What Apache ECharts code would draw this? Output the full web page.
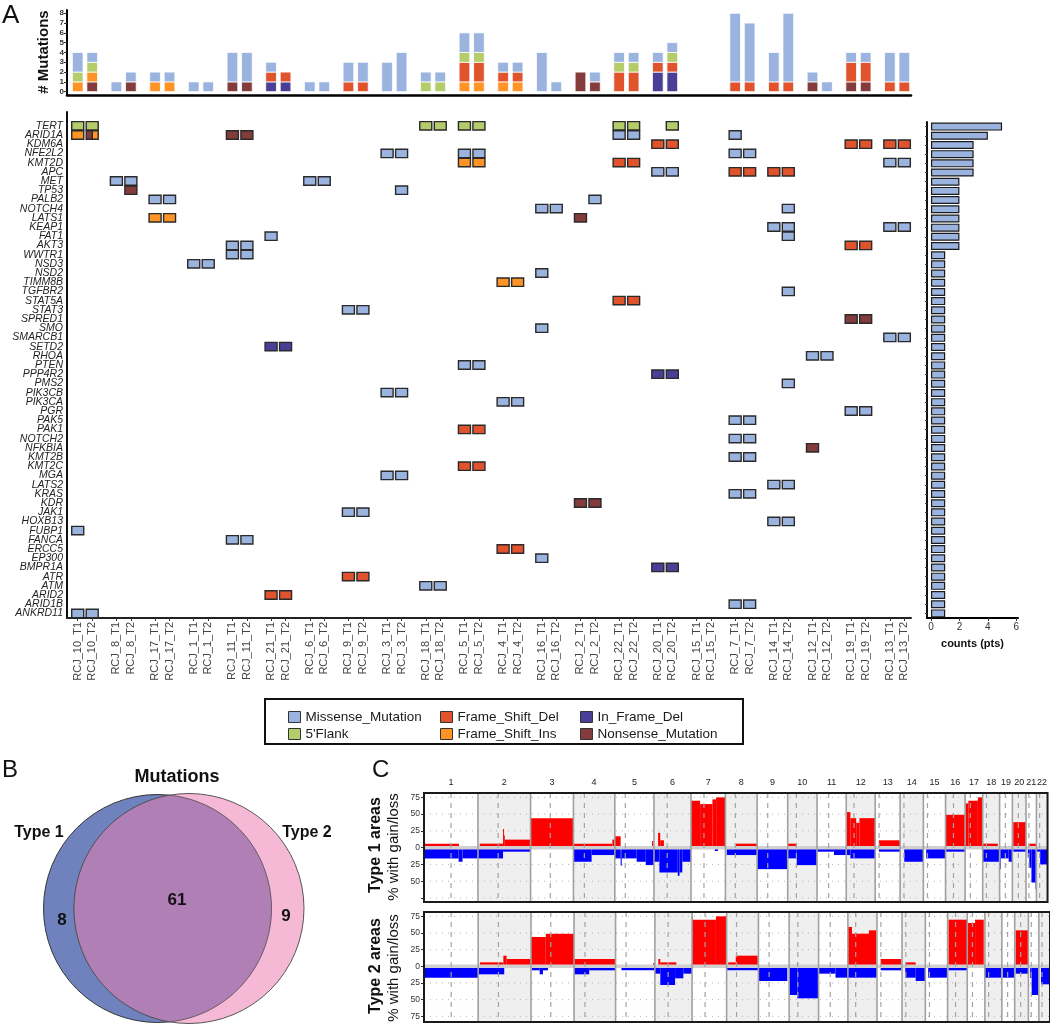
<!DOCTYPE html>
<html><head><meta charset="utf-8">
<script src="https://cdn.jsdelivr.net/npm/echarts@6/dist/echarts.min.js"></script>
<style>html,body{margin:0;padding:0;background:#fff}#c{width:1050px;height:1025px}</style>
</head><body><div id="c"></div>
<script>
// ---------------- DATA ----------------
const samples = ['RCJ_10_T1','RCJ_10_T2','RCJ_8_T1','RCJ_8_T2','RCJ_17_T1','RCJ_17_T2','RCJ_1_T1','RCJ_1_T2','RCJ_11_T1','RCJ_11_T2','RCJ_21_T1','RCJ_21_T2','RCJ_6_T1','RCJ_6_T2','RCJ_9_T1','RCJ_9_T2','RCJ_3_T1','RCJ_3_T2','RCJ_18_T1','RCJ_18_T2','RCJ_5_T1','RCJ_5_T2','RCJ_4_T1','RCJ_4_T2','RCJ_16_T1','RCJ_16_T2','RCJ_2_T1','RCJ_2_T2','RCJ_22_T1','RCJ_22_T2','RCJ_20_T1','RCJ_20_T2','RCJ_15_T1','RCJ_15_T2','RCJ_7_T1','RCJ_7_T2','RCJ_14_T1','RCJ_14_T2','RCJ_12_T1','RCJ_12_T2','RCJ_19_T1','RCJ_19_T2','RCJ_13_T1','RCJ_13_T2'];
const genes = ['TERT','ARID1A','KDM6A','NFE2L2','KMT2D','APC','MET','TP53','PALB2','NOTCH4','LATS1','KEAP1','FAT1','AKT3','WWTR1','NSD3','NSD2','TIMM8B','TGFBR2','STAT5A','STAT3','SPRED1','SMO','SMARCB1','SETD2','RHOA','PTEN','PPP4R2','PMS2','PIK3CB','PIK3CA','PGR','PAK5','PAK1','NOTCH2','NFKBIA','KMT2B','KMT2C','MGA','LATS2','KRAS','KDR','JAK1','HOXB13','FUBP1','FANCA','ERCC5','EP300','BMPR1A','ATR','ATM','ARID2','ARID1B','ANKRD11'];
const geneCounts = [5,4,3,3,3,3,2,2,2,2,2,2,2,2,
  1,1,1,1,1,1,1,1,1,1, 1,1,1,1,1,1,1,1,1,1, 1,1,1,1,1,1,1,1,1,1, 1,1,1,1,1,1,1,1,1,1];
const mutationTypes = ['Missense_Mutation',"5'Flank",'Frame_Shift_Del','Frame_Shift_Ins','In_Frame_Del','Nonsense_Mutation'];
const typeColors = ['#9bb3df','#b5cc6b','#e0532d','#fe9425','#4a3f97','#843b3b'];
const typeCodes = {M:'Missense_Mutation',F:"5'Flank",D:'Frame_Shift_Del',I:'Frame_Shift_Ins',X:'In_Frame_Del',N:'Nonsense_Mutation'};
const stackOrder = ['Nonsense_Mutation','Frame_Shift_Ins','In_Frame_Del','Frame_Shift_Del',"5'Flank",'Missense_Mutation'];
const mutationCalls = [
['TERT','10_T1','F'],['TERT','10_T2','F'],['TERT','18_T1','F'],['TERT','18_T2','F'],['TERT','5_T1','F'],['TERT','5_T2','F'],['TERT','22_T1','F'],['TERT','22_T2','F'],['TERT','20_T2','F'],
['ARID1A','10_T1','I'],['ARID1A','10_T2','N'],['ARID1A','10_T2','I'],['ARID1A','11_T1','N'],['ARID1A','11_T2','N'],['ARID1A','22_T1','M'],['ARID1A','22_T2','M'],['ARID1A','7_T1','M'],
['KDM6A','20_T1','D'],['KDM6A','20_T2','D'],['KDM6A','19_T1','D'],['KDM6A','19_T2','D'],['KDM6A','13_T1','D'],['KDM6A','13_T2','D'],
['NFE2L2','3_T1','M'],['NFE2L2','3_T2','M'],['NFE2L2','5_T1','M'],['NFE2L2','5_T2','M'],['NFE2L2','7_T1','M'],['NFE2L2','7_T2','M'],
['KMT2D','5_T1','I'],['KMT2D','5_T2','I'],['KMT2D','22_T1','D'],['KMT2D','22_T2','D'],['KMT2D','13_T1','M'],['KMT2D','13_T2','M'],
['APC','20_T1','M'],['APC','20_T2','M'],['APC','7_T1','D'],['APC','7_T2','D'],['APC','14_T1','D'],['APC','14_T2','D'],
['MET','8_T1','M'],['MET','8_T2','M'],['MET','6_T1','M'],['MET','6_T2','M'],
['TP53','8_T2','N'],['TP53','3_T2','M'],
['PALB2','17_T1','M'],['PALB2','17_T2','M'],['PALB2','2_T2','M'],
['NOTCH4','16_T1','M'],['NOTCH4','16_T2','M'],['NOTCH4','14_T2','M'],
['LATS1','17_T1','I'],['LATS1','17_T2','I'],['LATS1','2_T1','N'],
['KEAP1','14_T1','M'],['KEAP1','14_T2','M'],['KEAP1','13_T1','M'],['KEAP1','13_T2','M'],
['FAT1','21_T1','M'],['FAT1','14_T2','M'],
['AKT3','11_T1','M'],['AKT3','11_T2','M'],['AKT3','19_T1','D'],['AKT3','19_T2','D'],
['WWTR1','11_T1','M'],['WWTR1','11_T2','M'],
['NSD3','1_T1','M'],['NSD3','1_T2','M'],
['NSD2','16_T1','M'],
['TIMM8B','4_T1','I'],['TIMM8B','4_T2','I'],
['TGFBR2','14_T2','M'],
['STAT5A','22_T1','D'],['STAT5A','22_T2','D'],
['STAT3','9_T1','M'],['STAT3','9_T2','M'],
['SPRED1','19_T1','N'],['SPRED1','19_T2','N'],
['SMO','16_T1','M'],
['SMARCB1','13_T1','M'],['SMARCB1','13_T2','M'],
['SETD2','21_T1','X'],['SETD2','21_T2','X'],
['RHOA','12_T1','M'],['RHOA','12_T2','M'],
['PTEN','5_T1','M'],['PTEN','5_T2','M'],
['PPP4R2','20_T1','X'],['PPP4R2','20_T2','X'],
['PMS2','14_T2','M'],
['PIK3CB','3_T1','M'],['PIK3CB','3_T2','M'],
['PIK3CA','4_T1','M'],['PIK3CA','4_T2','M'],
['PGR','19_T1','M'],['PGR','19_T2','M'],
['PAK5','7_T1','M'],['PAK5','7_T2','M'],
['PAK1','5_T1','D'],['PAK1','5_T2','D'],
['NOTCH2','7_T1','M'],['NOTCH2','7_T2','M'],
['NFKBIA','12_T1','N'],
['KMT2B','7_T1','M'],['KMT2B','7_T2','M'],
['KMT2C','5_T1','D'],['KMT2C','5_T2','D'],
['MGA','3_T1','M'],['MGA','3_T2','M'],
['LATS2','14_T1','M'],['LATS2','14_T2','M'],
['KRAS','7_T1','M'],['KRAS','7_T2','M'],
['KDR','2_T1','N'],['KDR','2_T2','N'],
['JAK1','9_T1','M'],['JAK1','9_T2','M'],
['HOXB13','14_T1','M'],['HOXB13','14_T2','M'],
['FUBP1','10_T1','M'],
['FANCA','11_T1','M'],['FANCA','11_T2','M'],
['ERCC5','4_T1','D'],['ERCC5','4_T2','D'],
['EP300','16_T1','M'],
['BMPR1A','20_T1','X'],['BMPR1A','20_T2','X'],
['ATR','9_T1','D'],['ATR','9_T2','D'],
['ATM','18_T1','M'],['ATM','18_T2','M'],
['ARID2','21_T1','D'],['ARID2','21_T2','D'],
['ARID1B','7_T1','M'],['ARID1B','7_T2','M'],
['ANKRD11','10_T1','M'],['ANKRD11','10_T2','M']
];
const topTicks = [0,1,2,3,4,5,6,7,8];
const countTicks = [0,2,4,6];

// Venn
const vennTitle = 'Mutations';
const vennSets = ['Type 1','Type 2'];
const vennCounts = [8, 61, 9]; // only type1, shared, only type2

// Copy number (hg19, Mb)
const chrNames = ['1','2','3','4','5','6','7','8','9','10','11','12','13','14','15','16','17','18','19','20','21','22'];
const chrLengths = [249.25,243.2,198.0,191.15,180.92,171.12,159.14,146.36,141.21,135.53,135.01,133.85,115.17,107.35,102.53,90.35,81.2,78.08,59.13,63.03,48.13,51.3];
const centromeres = [125.0,93.3,91.0,50.4,48.4,61.0,59.9,45.6,49.0,40.2,53.7,35.8,17.9,17.6,19.0,36.6,24.0,17.2,26.5,27.5,13.2,14.7];
const cnvTicks = [-75,-50,-25,0,25,50,75];
// [chr, startMb, endMb, percent]
const type1Gains = [
[1,2,162,6],
[2,8,116,6],[2,116,119,28],[2,119,124,18],[2,124,243,12],
[3,0,198,44],
[4,0,180,6],[4,180,191,12],
[5,0,27,17],[5,172,178,10],
[6,19,29,22],[6,29,46,11],
[7,0,42,70],[7,42,99,65],[7,99,116,72],[7,116,159,75],
[8,48,146,6],
[10,0,42,6],
[12,0,19,53],[12,19,46,44],[12,46,61,37],[12,61,134,44],
[13,17,115,11],
[16,0,90,49],
[17,0,15,66],[17,15,59,70],[17,59,81,75],
[18,0,70,6],
[20,4,63,38],
[21,15,48,6]
];
const type1Losses = [
[1,0,160,16],[1,160,178,21],[1,178,249,16],
[2,0,116,16],[2,116,243,6],
[4,0,84,21],[4,84,191,11],
[5,0,27,16],[5,27,32,27],[5,32,101,16],[5,101,143,21],[5,143,181,26],
[6,0,25,21],[6,25,110,37],[6,110,118,42],[6,118,131,37],[6,131,171,21],
[7,110,125,5],
[8,6,146,11],
[9,0,141,32],
[10,0,42,16],[10,42,135,26],
[11,0,78,6],[11,78,135,11],
[12,0,19,11],[12,19,134,16],
[13,17,115,6],
[14,19,107,21],
[15,13,102,16],
[16,0,90,6],
[18,0,78,21],
[19,0,5,32],[19,5,42,16],[19,42,59,21],
[20,4,63,6],
[21,8,15,15],[21,15,25,30],[21,25,44,52],[21,44,48,62],
[22,0,17,6],[22,17,51,25]
];
const type2Gains = [
[2,8,116,6],[2,116,131,16],[2,131,243,11],
[3,0,68,44],[3,68,198,49],
[4,0,191,11],
[5,173,181,5],
[6,16,25,11],[6,25,99,6],
[7,0,4,75],[7,4,110,70],[7,110,159,75],
[8,7,42,6],[8,42,143,16],
[10,36,40,5],
[12,0,19,59],[12,19,97,49],[12,97,131,54],
[13,17,112,11],
[14,15,63,6],
[16,4,90,70],
[17,0,36,65],[17,36,76,70],
[20,4,63,54]
];
const type2Losses = [
[1,0,249,17],
[2,4,120,12],
[3,4,40,6],[3,40,55,12],[3,55,78,6],
[4,0,70,12],[4,70,191,6],
[5,27,181,6],
[6,0,25,11],[6,25,93,28],[6,93,131,18],[6,131,171,11],
[8,0,146,6],
[9,0,133,22],
[10,0,38,43],[10,38,135,48],
[11,0,78,11],[11,78,135,17],
[12,0,134,17],
[13,17,112,6],
[14,15,63,17],[14,63,107,22],
[15,13,100,17],
[16,4,90,6],
[18,0,74,17],
[19,4,59,17],
[20,4,63,11],
[21,8,15,17],[21,15,46,43],
[22,10,51,27]
];

// ---------------- BUILD ----------------
const FONT = '"Liberation Sans", Arial, Helvetica, sans-serif';
const PAIR_STEP = 2.67;
const sampleX = samples.map((s,k)=>Math.floor(k/2)*PAIR_STEP + (k%2));
const XMIN = -0.74, XMAX = sampleX[sampleX.length-1] + 0.46;
const sampleLabel = {}; sampleX.forEach((x,k)=>{ sampleLabel[x.toFixed(3)] = samples[k]; });
const colorOf = {}; mutationTypes.forEach((t,i)=>colorOf[t]=typeColors[i]);

const cellMap = {}; const cellKeys = [];
mutationCalls.forEach(([g,s,c])=>{ const key=g+'|'+s; if(!cellMap[key]){cellMap[key]=[];cellKeys.push(key);} cellMap[key].push(typeCodes[c]); });
const cellData = {}; mutationTypes.forEach(t=>cellData[t]=[]);
cellKeys.forEach(key=>{
  const [g,s]=key.split('|'); const list=cellMap[key];
  const k=samples.indexOf('RCJ_'+s), r=genes.indexOf(g)+1;
  list.forEach((t,i)=>cellData[t].push([sampleX[k], r, i, list.length]));
});
const sampleTypeCount = samples.map(()=>({}));
mutationCalls.forEach(([g,s,c])=>{ const k=samples.indexOf('RCJ_'+s); const t=typeCodes[c]; sampleTypeCount[k][t]=(sampleTypeCount[k][t]||0)+1; });
const stackData = {}; stackOrder.forEach(t=>stackData[t]=[]);
samples.forEach((s,k)=>{ let base=0; stackOrder.forEach(t=>{ const n=sampleTypeCount[k][t]||0; if(n>0){ stackData[t].push([sampleX[k], base, base+n]); base+=n; } }); });

const BAR_W = 10.7, CELL_W = 12, CELL_H = 8.4;
function barItem(color){ return function(params, api){
  const x=api.value(0), b=api.value(1), t=api.value(2);
  const p0=api.coord([x,b]), p1=api.coord([x,t]);
  return {type:'rect', shape:{x:p0[0]-BAR_W/2, y:p1[1], width:BAR_W, height:p0[1]-p1[1]}, style:{fill:color, stroke:'#ffffff', lineWidth:0.8}};
};}
function cellItem(color){ return function(params, api){
  const c=api.coord([api.value(0), api.value(1)]);
  const part=api.value(2), parts=api.value(3);
  const w=CELL_W/parts;
  return {type:'rect', shape:{x:c[0]-CELL_W/2+w*part, y:c[1]-CELL_H/2, width:w, height:CELL_H}, style:{fill:color, stroke:'#2a2a2a', lineWidth:1.4}};
};}

const chrStart = []; let acc=0; chrLengths.forEach(L=>{chrStart.push(acc); acc+=L;});
const GENOME = acc;
const chrMid = chrLengths.map((L,i)=>chrStart[i]+L/2);
const chrLabel = {}; chrMid.forEach((m,i)=>chrLabel[m.toFixed(2)]=chrNames[i]);

function cnvSeries(gi, gains, losses){
  const segs = gains.map(s=>[chrStart[s[0]-1]+s[1], chrStart[s[0]-1]+s[2], s[3]])
    .concat(losses.map(s=>[chrStart[s[0]-1]+s[1], chrStart[s[0]-1]+s[2], -s[3]]));
  const base = {type:'custom', xAxisIndex:gi, yAxisIndex:gi, silent:true};
  return [
    Object.assign({}, base, {z:1, data: chrLengths.map((L,i)=>[chrStart[i], chrStart[i]+L, i+1]),
      renderItem:(p,api)=>{ const cs=p.coordSys; const a=api.coord([api.value(0),0])[0], b=api.coord([api.value(1),0])[0];
        return {type:'rect', shape:{x:a,y:cs.y,width:b-a,height:cs.height}, style:{fill: api.value(2)%2===0?'#efefef':'#ffffff'}}; }}),
    Object.assign({}, base, {z:2, data: [-75,-50,-25,25,50,75].map(v=>[0,v]),
      renderItem:(p,api)=>{ const cs=p.coordSys; const y=api.coord([0,api.value(1)])[1];
        return {type:'line', shape:{x1:cs.x,y1:y,x2:cs.x+cs.width,y2:y}, style:{stroke:'#b5b5b5', lineWidth:1, lineDash:[1,5]}}; }}),
    Object.assign({}, base, {z:3, data: segs,
      renderItem:(p,api)=>{ const v=api.value(2); const p0=api.coord([api.value(0),0]), p1=api.coord([api.value(1),v]);
        return {type:'rect', shape:{x:p0[0], y:Math.min(p0[1],p1[1]), width:Math.max(1,p1[0]-p0[0]), height:Math.abs(p1[1]-p0[1])}, style:{fill: v>0?'#ff0000':'#0000ff'}}; }}),
    Object.assign({}, base, {z:4, data: [[0,0]],
      renderItem:(p,api)=>{ const cs=p.coordSys; const y=api.coord([0,0])[1];
        return {type:'line', shape:{x1:cs.x,y1:y,x2:cs.x+cs.width,y2:y}, style:{stroke:'#d0d0d0', lineWidth:3.5}}; }}),
    Object.assign({}, base, {z:5, data: centromeres.map((c,i)=>[chrStart[i]+c,0]),
      renderItem:(p,api)=>{ const cs=p.coordSys; const x=api.coord([api.value(0),0])[0];
        return {type:'line', shape:{x1:x,y1:cs.y,x2:x,y2:cs.y+cs.height}, style:{stroke:'#a3a3a3', lineWidth:1.2, lineDash:[5,5]}}; }}),
    Object.assign({}, base, {z:6, data: chrStart.slice(1).map(x=>[x,0]),
      renderItem:(p,api)=>{ const cs=p.coordSys; const x=api.coord([api.value(0),0])[0];
        return {type:'line', shape:{x1:x,y1:cs.y,x2:x,y2:cs.y+cs.height}, style:{stroke:'#a0a0a0', lineWidth:1.6}}; }}),
    Object.assign({}, base, {z:7, data: [[0,0]],
      renderItem:(p,api)=>{ const cs=p.coordSys;
        return {type:'rect', shape:{x:cs.x,y:cs.y,width:cs.width,height:cs.height}, style:{fill:'none', stroke:'#1a1a1a', lineWidth:2}}; }})
  ];
}

// Venn geometry (layout)
const VA = {cx:157.5, cy:908.5, r:114}, VB = {cx:189, cy:908.5, r:115};
const vd = VB.cx-VA.cx, va=(VA.r*VA.r - VB.r*VB.r + vd*vd)/(2*vd), vh=Math.sqrt(VA.r*VA.r-va*va);
const ix = VA.cx+va;
const lensPts = [];
(function(){
  const aB1 = Math.atan2(-vh, ix-VB.cx), aB2 = Math.atan2(vh, ix-VB.cx);
  let s = aB1 < 0 ? aB1 + 2*Math.PI : aB1;
  let e = aB2;
  const N=80;
  for(let i=0;i<=N;i++){ const a = s + (e - s)*i/N; lensPts.push([VB.cx+VB.r*Math.cos(a), VB.cy+VB.r*Math.sin(a)]); }
  const aA2 = Math.atan2(vh, ix-VA.cx), aA1 = Math.atan2(-vh, ix-VA.cx);
  for(let i=0;i<=N;i++){ const a = aA2 + (aA1 - aA2)*i/N; lensPts.push([VA.cx+VA.r*Math.cos(a), VA.cy+VA.r*Math.sin(a)]); }
})();

function txt(text, x, y, size, weight, extra){
  const el = {type:'text', x:x, y:y, silent:true, style:{text:text, fontSize:size, fontWeight:weight||'normal', fontFamily:FONT, fill:'#111', align:'center', verticalAlign:'middle'}};
  if (extra && extra.rotation !== undefined) el.rotation = extra.rotation;
  if (extra && extra.left) { el.style.align='left'; el.style.verticalAlign='top'; }
  return el;
}

const legendCommon = {orient:'vertical', itemWidth:12, itemHeight:11, itemGap:3, padding:0, icon:'rect', selectedMode:false,
  textStyle:{fontSize:13.5, color:'#1a1a1a', fontFamily:FONT}, itemStyle:{borderColor:'#333', borderWidth:1}};

const noAxis = {axisLine:{show:false}, axisTick:{show:false}, axisLabel:{show:false}, splitLine:{show:false}};

const option = {
  animation:false,
  textStyle:{fontFamily:FONT},
  grid:[
    {left:67, top:10, width:844, height:85},
    {left:67, top:112, width:844, height:506},
    {left:927, top:122, width:91, height:496},
    {left:424, top:793, width:626, height:109},
    {left:424, top:912, width:626, height:110}
  ],
  xAxis:[
    Object.assign({gridIndex:0, type:'value', min:XMIN, max:XMAX}, noAxis, {axisLine:{show:true, onZero:false, lineStyle:{color:'#000', width:2.5}}}),
    {gridIndex:1, type:'value', min:XMIN, max:XMAX, splitLine:{show:false},
      axisLine:{show:true, onZero:false, lineStyle:{color:'#222', width:2}},
      axisTick:{show:true, customValues:sampleX, length:3, lineStyle:{color:'#333'}},
      axisLabel:{show:true, customValues:sampleX, rotate:90, fontSize:11, color:'#444', margin:4, formatter:v=>sampleLabel[Number(v).toFixed(3)]||''}},
    {gridIndex:2, type:'value', min:-0.28, max:6.12, splitLine:{show:false},
      axisLine:{show:true, onZero:false, lineStyle:{color:'#000', width:2}},
      axisTick:{show:true, customValues:countTicks, length:3, lineStyle:{color:'#333'}},
      axisLabel:{show:true, customValues:countTicks, fontSize:10, color:'#333', margin:4},
      name:'counts (pts)', nameLocation:'middle', nameGap:20, nameTextStyle:{fontSize:11, fontWeight:'bold', color:'#111'}},
    {gridIndex:3, type:'value', min:0, max:GENOME, position:'top', splitLine:{show:false},
      axisLine:{show:false}, axisTick:{show:false},
      axisLabel:{show:true, customValues:chrMid, fontSize:9, color:'#222', margin:6, formatter:v=>chrLabel[Number(v).toFixed(2)]||''}},
    Object.assign({gridIndex:4, type:'value', min:0, max:GENOME}, noAxis)
  ],
  yAxis:[
    {gridIndex:0, type:'value', min:-0.34, max:8.33, splitLine:{show:false},
      axisLine:{show:true, onZero:false, lineStyle:{color:'#000', width:2}},
      axisTick:{show:true, customValues:topTicks, length:3, lineStyle:{color:'#333'}},
      axisLabel:{show:true, customValues:topTicks, fontSize:8, fontWeight:'bold', color:'#333', margin:3}},
    {gridIndex:1, type:'category', inverse:true, data:[''].concat(genes),
      axisLine:{show:true, onZero:false, lineStyle:{color:'#111', width:2}},
      axisTick:{show:false}, splitLine:{show:false},
      axisLabel:{show:true, interval:0, fontSize:10.5, fontStyle:'italic', color:'#222', margin:4}},
    {gridIndex:2, type:'category', inverse:true, data:genes,
      axisLine:{show:true, onZero:false, lineStyle:{color:'#111', width:2}},
      axisTick:{show:true, alignWithLabel:true, interval:0, length:2, lineStyle:{color:'#444'}},
      axisLabel:{show:false}, splitLine:{show:false}},
    {gridIndex:3, type:'value', min:-81, max:81.5, splitLine:{show:false},
      axisLine:{show:false, onZero:false},
      axisTick:{show:true, customValues:cnvTicks, length:3, lineStyle:{color:'#333'}},
      axisLabel:{show:true, customValues:[-50,-25,0,25,50,75], fontSize:8.5, color:'#333', margin:4, formatter:v=>String(Math.abs(v))}},
    {gridIndex:4, type:'value', min:-83.5, max:81.5, splitLine:{show:false},
      axisLine:{show:false, onZero:false},
      axisTick:{show:true, customValues:cnvTicks, length:3, lineStyle:{color:'#333'}},
      axisLabel:{show:true, customValues:cnvTicks, fontSize:8.5, color:'#333', margin:4, formatter:v=>String(Math.abs(v))}}
  ],
  legend:[
    Object.assign({}, legendCommon, {left:288, top:710, data:['Missense_Mutation',"5'Flank"]}),
    Object.assign({}, legendCommon, {left:440, top:710, data:['Frame_Shift_Del','Frame_Shift_Ins']}),
    Object.assign({}, legendCommon, {left:580, top:710, data:['In_Frame_Del','Nonsense_Mutation']})
  ],
  graphic:[
    txt('A', 2, 3, 26, 'normal', {left:true}),
    txt('# Mutations', 44, 52, 15, 'bold', {rotation:Math.PI/2}),
    {type:'rect', silent:true, shape:{x:265, y:699, width:478, height:45}, style:{fill:'none', stroke:'#111', lineWidth:2}},
    txt('B', 2, 758, 24, 'normal', {left:true}),
    {type:'circle', silent:true, shape:{cx:VA.cx, cy:VA.cy, r:VA.r}, style:{fill:'#6f82be', stroke:'#333', lineWidth:1}},
    {type:'circle', silent:true, shape:{cx:VB.cx, cy:VB.cy, r:VB.r}, style:{fill:'#f6b9d5', stroke:'#555', lineWidth:1}},
    {type:'polygon', silent:true, shape:{points:lensPts}, style:{fill:'#b07fb5', stroke:'#4a4a4a', lineWidth:0.8}},
    txt(vennTitle, 177, 777, 18, 'bold'),
    txt(vennSets[0], 39, 833, 16, 'bold'),
    txt(vennSets[1], 307, 833, 16, 'bold'),
    txt(String(vennCounts[0]), 62, 920, 17, 'bold'),
    txt(String(vennCounts[1]), 177, 900, 17, 'bold'),
    txt(String(vennCounts[2]), 286, 916, 17, 'bold'),
    txt('C', 372, 758, 24, 'normal', {left:true}),
    txt('Type 1 areas', 376, 845, 16, 'bold', {rotation:Math.PI/2}),
    txt('% with gain/loss', 394, 847, 15, 'normal', {rotation:Math.PI/2}),
    txt('Type 2 areas', 376, 966, 16, 'bold', {rotation:Math.PI/2}),
    txt('% with gain/loss', 394, 968, 15, 'normal', {rotation:Math.PI/2})
  ],
  series: [].concat(
    stackOrder.map(t=>({type:'custom', name:t, xAxisIndex:0, yAxisIndex:0, itemStyle:{color:colorOf[t]}, renderItem:barItem(colorOf[t]), data:stackData[t]})),
    mutationTypes.map(t=>({type:'custom', name:t, xAxisIndex:1, yAxisIndex:1, itemStyle:{color:colorOf[t]}, renderItem:cellItem(colorOf[t]), data:cellData[t]})),
    [{type:'bar', name:'counts', xAxisIndex:2, yAxisIndex:2, data:geneCounts, barWidth:8,
      itemStyle:{color:'#9bb3df', borderColor:'#1a1a1a', borderWidth:1.2}}],
    cnvSeries(3, type1Gains, type1Losses),
    cnvSeries(4, type2Gains, type2Losses)
  )
};
const chart = echarts.init(document.getElementById('c'), null, {renderer:'canvas'});
chart.setOption(option);
</script></body></html>
